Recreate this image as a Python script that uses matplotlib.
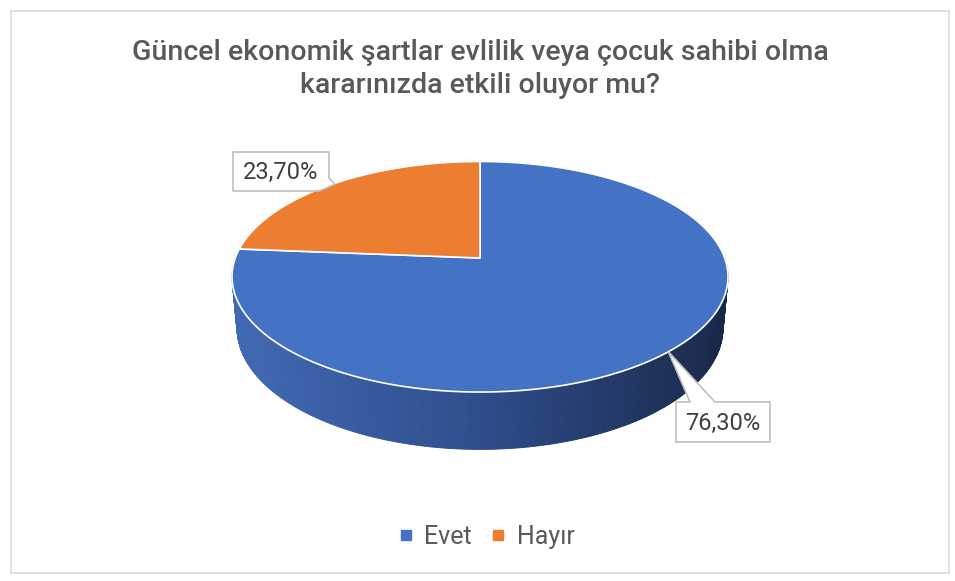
import numpy as np
import matplotlib
matplotlib.use("Agg")
import matplotlib.pyplot as plt
from matplotlib.patches import Polygon, Rectangle
from matplotlib.lines import Line2D
from matplotlib.colors import to_rgb

# ---- data ----
categories = ["Evet", "Hayır"]
values = [76.3, 23.7]
colors = ["#4472C4", "#ED7D31"]
title = "Güncel ekonomik şartlar evlilik veya çocuk sahibi olma\nkararınızda etkili oluyor mu?"

plt.rcParams['font.family'] = ['Roboto', 'DejaVu Sans']
TXT = "#595959"

W, H = 955, 581
fig = plt.figure(figsize=(W / 100, H / 100), dpi=100)
ax = fig.add_axes([0, 0, 1, 1])
ax.set_xlim(0, W)
ax.set_ylim(H, 0)
ax.axis("off")

# chart frame
ax.add_patch(Rectangle((11, 11), 938, 562, fill=False, edgecolor="#D9D9D9", lw=1.2))

# ---- 3D projection of the pie ----
CX, CY = 480, 258          # screen position of the pie centre
D = 5.46                   # camera distance (radius = 1)
ELEV = np.radians(27.3)
F = 1336.0
THICK = 0.2386
se, ce = np.sin(ELEV), np.cos(ELEV)


def proj(t, z=0.0):
    x, y = np.cos(t), np.sin(t)
    depth = D + y * ce - z * se
    u = x
    v = y * se + z * ce
    return CX + F * u / depth, CY - F * v / depth


def proj_center(z=0.0):
    depth = D - z * se
    return CX, CY - F * (z * ce) / depth


# slice angles: start at 12 o'clock, clockwise
fracs = np.array(values) / sum(values)
starts = []
ang = np.pi / 2
for fr in fracs:
    starts.append((ang, ang - 2 * np.pi * fr))
    ang = ang - 2 * np.pi * fr

# side wall (front half) with horizontal gradient
c_left = np.array(to_rgb("#4169B4"))
c_mid = np.array(to_rgb("#2E4D8C"))
c_right = np.array(to_rgb("#192849"))


def side_color(xs):
    s = (xs - (CX - 248)) / 496.0
    s = np.clip(s, 0, 1)
    if s < 0.5:
        return c_left + (c_mid - c_left) * (s / 0.5)
    return c_mid + (c_right - c_mid) * ((s - 0.5) / 0.5)


ts = np.linspace(np.pi, 2 * np.pi, 241)
for i in range(len(ts) - 1):
    t0, t1 = ts[i], ts[i + 1]
    x0, y0 = proj(t0)
    x1, y1 = proj(t1)
    x2, y2 = proj(t1, -THICK)
    x3, y3 = proj(t0, -THICK)
    col = side_color(0.5 * (x0 + x1))
    ax.add_patch(Polygon([(x0, y0), (x1, y1), (x2, y2), (x3, y3)],
                         closed=True, facecolor=col, edgecolor=col, lw=0.6, zorder=2))

# top face wedges
for (a0, a1), c in zip(starts, colors):
    tt = np.linspace(a0, a1, 300)
    pts = [proj_center()] + [proj(t) for t in tt]
    ax.add_patch(Polygon(pts, closed=True, facecolor=c, edgecolor="white",
                         lw=1.2, joinstyle="round", zorder=3))

# ---- data labels with callouts ----
label_boxes = {
    "Evet": ((676, 402, 770, 442), "top"),
    "Hayır": ((233, 152, 329, 191), "right"),
}
for (a0, a1), cat, v in zip(starts, categories, values):
    tm = 0.5 * (a0 + a1)
    apx, apy = proj(tm)
    (bx0, by0, bx1, by1), side = label_boxes[cat]
    if side == "top":
        poly = [(bx0, by0), (bx0 + 14, by0), (apx, apy), (bx0 + 39, by0),
                (bx1, by0), (bx1, by1), (bx0, by1)]
    else:
        poly = [(bx0, by0), (bx1, by0), (bx1, by1 - 13), (apx + 3, apy),
                (bx1 - 10, by1), (bx0, by1)]
    ax.add_patch(Polygon(poly, closed=True, facecolor="white", edgecolor="#BFBFBF",
                         lw=1.2, zorder=5))
    txt = f"{v:.2f}".replace(".", ",") + "%"
    ax.text((bx0 + bx1) / 2, (by0 + by1) / 2 + 1, txt, ha="center", va="center",
            fontsize=17, color="#404040", zorder=6)

# ---- title ----
ax.text(480, 69, title, ha="center", va="center", fontsize=20.5, color=TXT,
        linespacing=1.25, fontweight="medium")

# ---- legend ----
handles = [Line2D([], [], marker="s", linestyle="none", markersize=6.5,
                  markerfacecolor=c, markeredgecolor=c) for c in colors]
leg = ax.legend(handles, categories, loc="center", bbox_to_anchor=(487 / W, 1 - 537 / H),
                ncol=2, frameon=False, fontsize=18, handlelength=0.5,
                handletextpad=0.5, columnspacing=0.8, labelcolor=TXT)

fig.savefig("out.png", dpi=100, facecolor="white")
